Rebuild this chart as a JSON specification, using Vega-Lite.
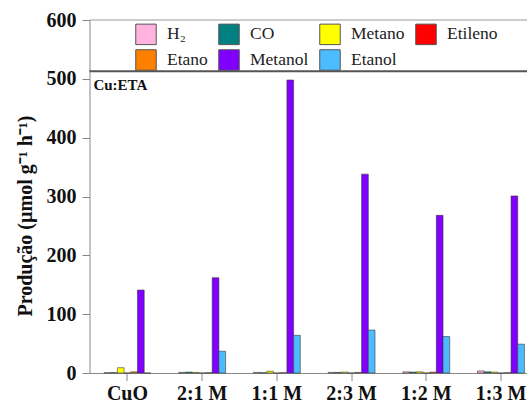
{
  "$schema": "https://vega.github.io/schema/vega-lite/v6.json",
  "width": 437.5,
  "height": 353,
  "autosize": {"type": "none"},
  "padding": {"left": 89.5, "top": 20, "right": 0, "bottom": 39},
  "config": {
    "view": {"stroke": null},
    "font": "Liberation Serif, Times New Roman, serif",
    "axis": {"labelFont": "Liberation Serif, Times New Roman, serif", "titleFont": "Liberation Serif, Times New Roman, serif"},
    "legend": {"labelFont": "Liberation Serif, Times New Roman, serif"},
    "text": {"font": "Liberation Serif, Times New Roman, serif"}
  },
  "data": {"values": [
    {"amostra": "CuO", "produto": "H₂", "valor": 0.5},
    {"amostra": "CuO", "produto": "CO", "valor": 0.5},
    {"amostra": "CuO", "produto": "Metano", "valor": 9},
    {"amostra": "CuO", "produto": "Etileno", "valor": 0},
    {"amostra": "CuO", "produto": "Etano", "valor": 2},
    {"amostra": "CuO", "produto": "Metanol", "valor": 141},
    {"amostra": "CuO", "produto": "Etanol", "valor": 0},
    {"amostra": "2:1 M", "produto": "H₂", "valor": 1},
    {"amostra": "2:1 M", "produto": "CO", "valor": 1.5},
    {"amostra": "2:1 M", "produto": "Metano", "valor": 1},
    {"amostra": "2:1 M", "produto": "Etileno", "valor": 0},
    {"amostra": "2:1 M", "produto": "Etano", "valor": 0.5},
    {"amostra": "2:1 M", "produto": "Metanol", "valor": 162},
    {"amostra": "2:1 M", "produto": "Etanol", "valor": 37},
    {"amostra": "1:1 M", "produto": "H₂", "valor": 1},
    {"amostra": "1:1 M", "produto": "CO", "valor": 0.5},
    {"amostra": "1:1 M", "produto": "Metano", "valor": 3},
    {"amostra": "1:1 M", "produto": "Etileno", "valor": 0},
    {"amostra": "1:1 M", "produto": "Etano", "valor": 0.5},
    {"amostra": "1:1 M", "produto": "Metanol", "valor": 498},
    {"amostra": "1:1 M", "produto": "Etanol", "valor": 64},
    {"amostra": "2:3 M", "produto": "H₂", "valor": 1},
    {"amostra": "2:3 M", "produto": "CO", "valor": 1},
    {"amostra": "2:3 M", "produto": "Metano", "valor": 1.5},
    {"amostra": "2:3 M", "produto": "Etileno", "valor": 0},
    {"amostra": "2:3 M", "produto": "Etano", "valor": 1},
    {"amostra": "2:3 M", "produto": "Metanol", "valor": 338},
    {"amostra": "2:3 M", "produto": "Etanol", "valor": 73},
    {"amostra": "1:2 M", "produto": "H₂", "valor": 2},
    {"amostra": "1:2 M", "produto": "CO", "valor": 1.5},
    {"amostra": "1:2 M", "produto": "Metano", "valor": 2},
    {"amostra": "1:2 M", "produto": "Etileno", "valor": 0},
    {"amostra": "1:2 M", "produto": "Etano", "valor": 1.5},
    {"amostra": "1:2 M", "produto": "Metanol", "valor": 268},
    {"amostra": "1:2 M", "produto": "Etanol", "valor": 62},
    {"amostra": "1:3 M", "produto": "H₂", "valor": 3.5},
    {"amostra": "1:3 M", "produto": "CO", "valor": 2},
    {"amostra": "1:3 M", "produto": "Metano", "valor": 1.5},
    {"amostra": "1:3 M", "produto": "Etileno", "valor": 0},
    {"amostra": "1:3 M", "produto": "Etano", "valor": 0.5},
    {"amostra": "1:3 M", "produto": "Metanol", "valor": 301},
    {"amostra": "1:3 M", "produto": "Etanol", "valor": 49}
  ]},
  "layer": [
    {
      "mark": {"type": "bar", "stroke": "#333", "strokeWidth": 0.7, "strokeOpacity": 0.8},
      "encoding": {
        "x": {
          "field": "amostra", "type": "nominal",
          "sort": ["CuO", "2:1 M", "1:1 M", "2:3 M", "1:2 M", "1:3 M"],
          "scale": {"paddingInner": 0.372, "paddingOuter": 0.114, "align": 0.85},
          "axis": {"title": null, "labelAngle": 0, "labelFont": "Liberation Serif", "labelFontSize": 20, "labelFontWeight": "bold", "labelColor": "#111", "tickSize": 7.5, "labelPadding": 3, "domainColor": "#888", "tickColor": "#888", "grid": false}
        },
        "xOffset": {
          "field": "produto", "type": "nominal",
          "sort": ["H₂", "CO", "Metano", "Etileno", "Etano", "Metanol", "Etanol"],
          "scale": {"paddingInner": 0, "paddingOuter": 0}
        },
        "y": {
          "field": "valor", "type": "quantitative",
          "scale": {"domain": [0, 600], "nice": false},
          "axis": {
            "values": [0, 50, 100, 150, 200, 250, 300, 350, 400, 450, 500, 550, 600],
            "labelExpr": "datum.value % 100 === 0 ? datum.label : ''",
            "tickSize": {"condition": {"test": "datum.value % 100 !== 0", "value": 3.5}, "value": 7.5},
            "labelFont": "Liberation Serif", "labelFontSize": 20, "labelFontWeight": "bold", "labelColor": "#111", "labelPadding": 6,
            "domainColor": "#888", "tickColor": "#888", "grid": false,
            "title": "Produção (µmol g⁻¹ h⁻¹)", "titleFont": "Liberation Serif", "titleFontSize": 20, "titleFontWeight": "bold", "titleColor": "#111",
            "titleX": -58.5, "titleY": 195.5, "titleAlign": "center", "titleBaseline": "alphabetic", "titleAngle": 270
          }
        },
        "color": {
          "field": "produto", "type": "nominal",
          "scale": {
            "domain": ["H₂", "CO", "Metano", "Etileno", "Etano", "Metanol", "Etanol"],
            "range": ["#ffb3de", "#008080", "#ffff00", "#ff0000", "#ff8000", "#8000ff", "#4dbbff"]
          },
          "legend": {
            "orient": "none", "legendX": 45.5, "legendY": 3, "direction": "horizontal", "columns": 4,
            "title": null, "symbolType": "square", "symbolSize": 420, "symbolStrokeColor": "#555", "symbolStrokeWidth": 1,
            "symbolOpacity": 1, "labelFontSize": 17.5, "labelFont": "Liberation Serif", "labelOffset": 10,
            "columnPadding": 8, "rowPadding": 0, "padding": 0, "labelColor": "#222"
          }
        }
      }
    },
    {
      "data": {"values": [{}]},
      "mark": {"type": "rule", "color": "#555", "strokeWidth": 2},
      "encoding": {"y": {"datum": 513}}
    },
    {
      "data": {"values": [{}]},
      "mark": {"type": "rule", "color": "#999", "strokeWidth": 1},
      "encoding": {"y": {"datum": 600}}
    },
    {
      "data": {"values": [{}]},
      "mark": {"type": "text", "font": "Liberation Serif", "fontSize": 15, "fontWeight": "bold", "align": "left", "baseline": "alphabetic", "color": "#111", "dx": -10.6},
      "encoding": {
        "x": {"datum": "CuO", "bandPosition": 0},
        "y": {"datum": 481},
        "text": {"value": "Cu:ETA"}
      }
    }
  ]
}
